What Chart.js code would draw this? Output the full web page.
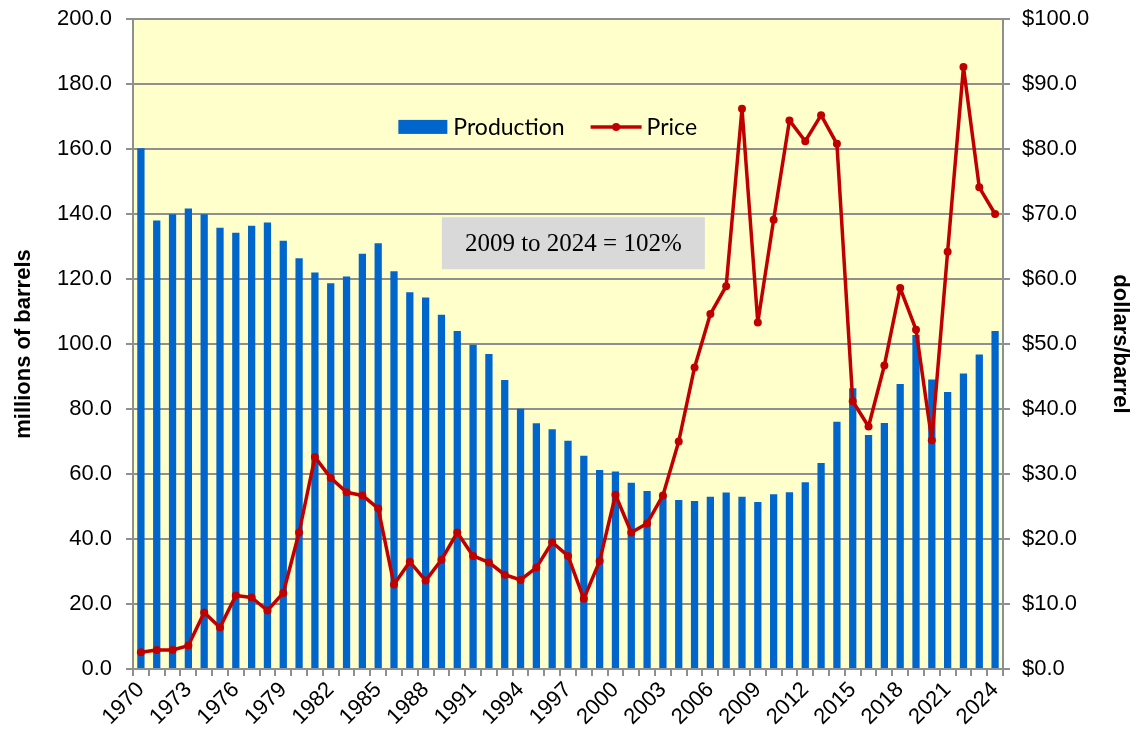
<!DOCTYPE html>
<html>

<head>
    <meta charset="UTF-8">
    <title>Production and Price</title>
    <style>
        body {
            margin: 0;
            background: #ffffff;
        }

        #wrap {
            width: 1134px;
            height: 729px;
        }
    </style>
</head>

<body>
    <div id="wrap">
        <canvas id="prodChart" width="1134" height="729"></canvas>
    </div>
    <script src="https://cdn.jsdelivr.net/npm/chart.js"></script>

    <script>
        const years = [];
        for (let y = 1970; y <= 2024; y++) years.push(String(y));

        // millions of barrels
        const production = [
            160.2, 138.0, 139.9, 141.7, 139.9, 135.8, 134.2, 136.4, 137.4, 131.8,
            126.4, 122.0, 118.7, 120.8, 127.8, 131.0, 122.4, 115.9, 114.3, 109.0,
            104.0, 99.8, 96.9, 88.9, 80.1, 75.6, 73.8, 70.2, 65.6, 61.2,
            60.8, 57.3, 54.8, 53.5, 52.0, 51.7, 53.0, 54.3, 53.0, 51.4,
            53.8, 54.4, 57.5, 63.4, 76.1, 86.4, 72.0, 75.7, 87.7, 102.8,
            89.1, 85.2, 90.9, 96.8, 104.0
        ];

        // dollars/barrel
        const price = [
            2.57, 2.92, 2.92, 3.6, 8.7, 6.4, 11.3, 11.0, 9.0, 11.7,
            21.0, 32.6, 29.4, 27.2, 26.7, 24.7, 13.0, 16.5, 13.6, 16.8,
            21.0, 17.4, 16.4, 14.5, 13.7, 15.6, 19.5, 17.4, 10.8, 16.6,
            26.8, 21.0, 22.4, 26.7, 35.0, 46.4, 54.6, 58.9, 86.2, 53.3,
            69.1, 84.4, 81.2, 85.2, 80.8, 41.2, 37.3, 46.7, 58.6, 52.2,
            35.2, 64.2, 92.6, 74.1, 70.0
        ];

        const noteText = "2009 to 2024 = 102%";

        const barColor = "#0066CC";
        const lineColor = "#C00000";
        const gridColor = "#8f8f8f";

        // yellow plot area
        const plotBackground = {
            id: "plotBackground",
            beforeDraw(chart) {
                const a = chart.chartArea;
                const ctx = chart.ctx;
                ctx.save();
                ctx.fillStyle = "#FFFFCC";
                ctx.fillRect(a.left, a.top, a.right - a.left, a.bottom - a.top);
                ctx.restore();
            }
        };

        // legend and the grey note box, placed inside the plot
        const overlay = {
            id: "overlay",
            afterDraw(chart) {
                const a = chart.chartArea;
                const w = a.right - a.left;
                const h = a.bottom - a.top;
                const ctx = chart.ctx;
                ctx.save();

                const ly = a.top + h * 0.166;
                const lx = a.left + w * 0.305;
                ctx.fillStyle = barColor;
                ctx.fillRect(lx, ly - 7, 49, 14);
                ctx.fillStyle = "#000";
                ctx.font = "23px Lato";
                ctx.textBaseline = "middle";
                ctx.fillText("Production", lx + 55, ly + 1);

                const px = a.left + w * 0.526;
                ctx.strokeStyle = lineColor;
                ctx.lineWidth = 3.5;
                ctx.beginPath();
                ctx.moveTo(px, ly);
                ctx.lineTo(px + 51, ly);
                ctx.stroke();
                ctx.fillStyle = lineColor;
                ctx.beginPath();
                ctx.arc(px + 25.5, ly, 4, 0, Math.PI * 2);
                ctx.fill();
                ctx.fillStyle = "#000";
                ctx.fillText("Price", px + 56, ly + 1);

                const bx = a.left + w * 0.355;
                const by = a.top + h * 0.305;
                const bw = 263;
                const bh = 52;
                ctx.fillStyle = "#D9D9D9";
                ctx.fillRect(bx, by, bw, bh);
                ctx.fillStyle = "#000";
                ctx.font = "25px 'Liberation Serif'";
                ctx.textAlign = "center";
                ctx.fillText(noteText, bx + bw / 2, by + bh / 2 + 1);

                ctx.restore();
            }
        };

        const tickFont = { family: "'Liberation Sans', Arial", size: 22 };
        const titleFont = { family: "'Liberation Sans', Arial", size: 22, weight: "bold" };

        // fixed axis sizes so the plot sits where the original does
        function fitY(width) {
            return (scale) => {
                scale.width = width;
                scale.paddingTop = 0;
                scale.paddingBottom = 0;
            };
        }

        const chart = new Chart(document.getElementById("prodChart"), {
            type: "bar",
            data: {
                labels: years,
                datasets: [
                    {
                        type: "line",
                        label: "Price",
                        data: price,
                        yAxisID: "yPrice",
                        borderColor: lineColor,
                        backgroundColor: lineColor,
                        borderWidth: 3.5,
                        borderJoinStyle: "round",
                        borderCapStyle: "round",
                        pointRadius: 4,
                        pointBackgroundColor: lineColor,
                        pointBorderWidth: 0,
                        tension: 0,
                        order: 0
                    },
                    {
                        type: "bar",
                        label: "Production",
                        data: production,
                        yAxisID: "yProd",
                        backgroundColor: barColor,
                        borderWidth: 0,
                        categoryPercentage: 1.0,
                        barPercentage: 0.46,
                        order: 1
                    }
                ]
            },
            plugins: [plotBackground, overlay],
            options: {
                responsive: false,
                animation: false,
                layout: {
                    padding: { top: 19, right: 0, bottom: 0, left: 0 }
                },
                plugins: {
                    legend: { display: false },
                    tooltip: { enabled: false }
                },
                scales: {
                    x: {
                        offset: true,
                        afterFit(scale) { scale.height = 60; },
                        grid: {
                            offset: true,
                            drawOnChartArea: false,
                            tickLength: 7,
                            color: gridColor,
                            lineWidth: 2
                        },
                        border: { display: true, color: gridColor, width: 2 },
                        ticks: {
                            autoSkip: false,
                            minRotation: 45,
                            maxRotation: 45,
                            padding: 1,
                            color: "#000",
                            font: tickFont,
                            callback: (v, i) => (i % 3 === 0 ? years[i] : "")
                        }
                    },
                    yProd: {
                        position: "left",
                        min: 0,
                        max: 200,
                        afterFit: fitY(133),
                        grid: {
                            color: gridColor,
                            lineWidth: 2,
                            tickLength: 7
                        },
                        border: { display: true, color: gridColor, width: 2 },
                        ticks: {
                            stepSize: 20,
                            padding: 14,
                            color: "#000",
                            font: tickFont,
                            callback: (v) => v.toFixed(1)
                        },
                        title: {
                            display: true,
                            text: "millions of barrels",
                            color: "#000",
                            font: titleFont,
                            padding: { top: 11, bottom: 0 }
                        }
                    },
                    yPrice: {
                        position: "right",
                        min: 0,
                        max: 100,
                        afterFit: fitY(131),
                        grid: {
                            drawOnChartArea: false,
                            color: gridColor,
                            lineWidth: 2,
                            tickLength: 7
                        },
                        border: { display: true, color: gridColor, width: 2 },
                        ticks: {
                            stepSize: 10,
                            padding: 12,
                            color: "#000",
                            font: tickFont,
                            callback: (v) => "$" + v.toFixed(1)
                        },
                        title: {
                            display: true,
                            text: "dollars/barrel",
                            color: "#000",
                            font: titleFont,
                            padding: { top: 1, bottom: 0 }
                        }
                    }
                }
            }
        });
    </script>
</body>

</html>
